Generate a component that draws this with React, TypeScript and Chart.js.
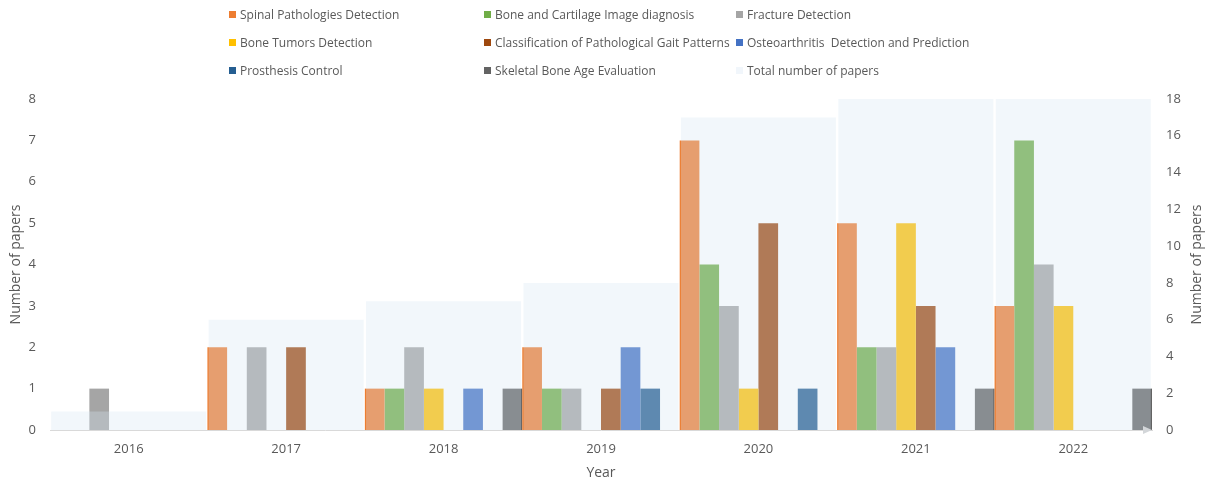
import React, { useEffect, useRef } from 'react';
import { Chart, registerables } from 'chart.js';

Chart.register(...registerables);

const years = ['2016', '2017', '2018', '2019', '2020', '2021', '2022'];

const spinal = [0, 2, 1, 2, 7, 5, 3];
const boneCartilage = [0, 0, 1, 1, 4, 2, 7];
const fracture = [1, 2, 2, 1, 3, 2, 4];
const boneTumors = [0, 0, 1, 0, 1, 5, 3];
const gait = [0, 2, 0, 1, 5, 3, 0];
const osteoarthritis = [0, 0, 1, 2, 0, 2, 0];
const prosthesis = [0, 0, 0, 1, 1, 0, 0];
const skeletal = [0, 0, 1, 0, 0, 1, 1];
const totalPapers = [1, 6, 7, 8, 17, 18, 18];

const seriesNames = [
  'Spinal Pathologies Detection',
  'Bone and Cartilage Image diagnosis',
  'Fracture Detection',
  'Bone Tumors Detection',
  'Classification of Pathological Gait Patterns',
  'Osteoarthritis  Detection and Prediction',
  'Prosthesis Control',
  'Skeletal Bone Age Evaluation',
];
const seriesData = [spinal, boneCartilage, fracture, boneTumors, gait, osteoarthritis, prosthesis, skeletal];
const seriesColors = ['#ED7D31', '#70AD47', '#A5A5A5', '#FFC000', '#9E480E', '#4472C4', '#255E91', '#636363'];
const totalName = 'Total number of papers';
const totalColor = 'rgba(214,230,244,0.32)';
const totalSwatch = '#F1F6FB';

const leftTicksMax = 8;
const rightTicksMax = 18;

const FONT = "'Open Sans', sans-serif";
const TEXT = '#595959';

// legend layout: column x of swatches, row y centers
const legendCols = [229, 484, 736];
const legendRows = [14, 42, 70];

export default function App() {
  const ref = useRef<HTMLCanvasElement>(null);

  useEffect(() => {
    document.body.style.margin = '0';
    const extras = {
      id: 'extras',
      afterDatasetsDraw(chart: any) {
        const { ctx, chartArea } = chart;
        ctx.save();
        // arrow at end of x axis
        ctx.fillStyle = '#d3d6d9';
        ctx.beginPath();
        ctx.moveTo(chartArea.right - 9, chartArea.bottom - 4);
        ctx.lineTo(chartArea.right, chartArea.bottom);
        ctx.lineTo(chartArea.right - 9, chartArea.bottom + 4);
        ctx.closePath();
        ctx.fill();
        // right axis title, reading bottom-to-top
        ctx.translate(1197, (chartArea.top + chartArea.bottom) / 2);
        ctx.rotate(-Math.PI / 2);
        ctx.fillStyle = TEXT;
        ctx.font = `14px ${FONT}`;
        ctx.textAlign = 'center';
        ctx.textBaseline = 'middle';
        ctx.fillText('Number of papers', 0, 0);
        ctx.restore();
      },
    };

    const datasets: any[] = seriesNames.map((name, i) => ({
      label: name,
      data: seriesData[i],
      backgroundColor: seriesColors[i],
      yAxisID: 'y',
      order: 1,
      categoryPercentage: 1,
      barPercentage: 1,
      inflateAmount: 0,
    }));
    datasets.push({
      label: totalName,
      data: totalPapers,
      backgroundColor: totalColor,
      yAxisID: 'y1',
      order: 0,
      grouped: false,
      categoryPercentage: 1,
      barPercentage: 0.985,
      inflateAmount: 0,
    });

    const chart = new Chart(ref.current as HTMLCanvasElement, {
      type: 'bar',
      data: { labels: years, datasets },
      plugins: [extras],
      options: {
        animation: false,
        responsive: false,
        layout: { padding: { top: 99, left: 0, right: 0, bottom: 0 } },
        plugins: { legend: { display: false }, tooltip: { enabled: false } },
        scales: {
          x: {
            grid: { display: false, drawTicks: false },
            border: { display: true, color: '#d9d9d9', width: 1 },
            ticks: { color: TEXT, font: { family: FONT, size: 13 }, padding: 11 },
            title: {
              display: true,
              text: 'Year',
              color: TEXT,
              font: { family: FONT, size: 14 },
              padding: { top: 0, bottom: 6 },
            },
            afterFit: (s: any) => {
              s.height = 57;
            },
          },
          y: {
            position: 'left',
            min: 0,
            max: leftTicksMax,
            grid: { display: false, drawTicks: false },
            border: { display: false },
            ticks: { stepSize: 1, color: TEXT, font: { family: FONT, size: 13 }, padding: 14 },
            title: {
              display: true,
              text: 'Number of papers',
              color: TEXT,
              font: { family: FONT, size: 14 },
              padding: { top: 8, bottom: 0 },
            },
            afterFit: (s: any) => {
              s.width = 50;
            },
          },
          y1: {
            position: 'right',
            min: 0,
            max: rightTicksMax,
            grid: { display: false, drawTicks: false },
            border: { display: false },
            ticks: { stepSize: 2, color: TEXT, font: { family: FONT, size: 13 }, padding: 14 },
            afterFit: (s: any) => {
              s.width = 56;
            },
          },
        },
      } as any,
    });
    return () => chart.destroy();
  }, []);

  const legendItems = [
    ...seriesNames.map((n, i) => ({ name: n, color: seriesColors[i] })),
    { name: totalName, color: totalSwatch },
  ];

  return (
    <div style={{ position: 'relative', width: 1208, height: 487, background: '#fff' }}>
      <canvas ref={ref} width={1208} height={487} style={{ position: 'absolute', left: 0, top: 0 }} />
      {legendItems.map((it, i) => {
        const col = i % 3;
        const row = Math.floor(i / 3);
        return (
          <div
            key={it.name}
            style={{
              position: 'absolute',
              left: legendCols[col],
              top: legendRows[row] - 9,
              height: 18,
              display: 'flex',
              alignItems: 'center',
              whiteSpace: 'pre',
              fontFamily: FONT,
              fontSize: 12,
              color: TEXT,
            }}
          >
            <span style={{ display: 'inline-block', width: 7, height: 7, background: it.color, marginRight: 4 }} />
            <span>{it.name}</span>
          </div>
        );
      })}
    </div>
  );
}
